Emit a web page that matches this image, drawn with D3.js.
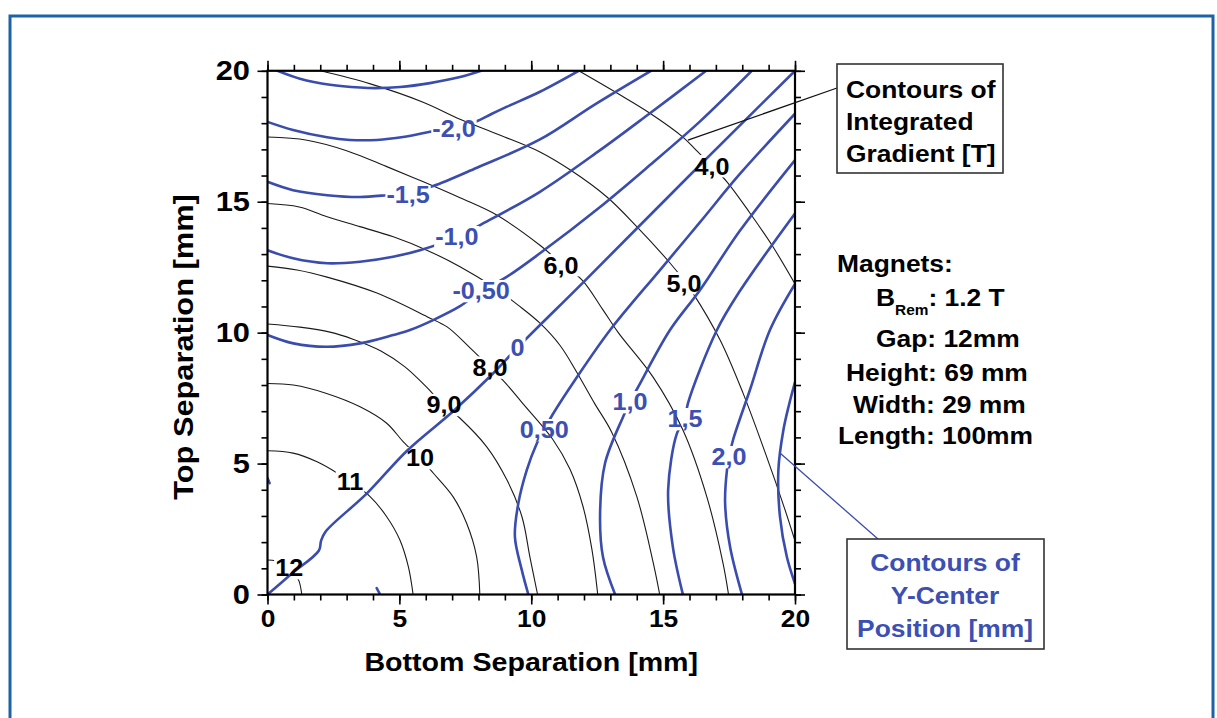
<!DOCTYPE html>
<html>
<head>
<meta charset="utf-8">
<script src="https://cdn.jsdelivr.net/npm/d3@7"></script>
<style>
  html, body { margin: 0; padding: 0; background: #fff; }
  svg { display: block; }
  text { font-family: "Liberation Sans", Arial, Helvetica, sans-serif; font-weight: bold; }
</style>
</head>
<body>
<svg id="chart" width="1217" height="718"></svg>
<script>
// ---- Integrated gradient contours [T]; points are (bottom sep, top sep) in mm ----
const gradientValues = ["4,0", "5,0", "6,0", "7,0", "8,0", "9,0", "10", "11", "12"];
const grad40 = [[11.8,20],[13.25,19.15],[14.5,18.38],[15.75,17.47],[16.25,16.97],[16.85,16.36],[17.42,15.76],[18.29,14.57],[19.17,13.27],[20,11.86]];
const grad50 = [[2.01,20],[3.9,19.5],[5.9,18.8],[7.3,18.15],[8.8,17.55],[10.33,16.9],[11.5,16.2],[12.87,15.18],[14.0,14.05],[15.26,12.66],[15.75,12.05],[16.13,11.51],[17.16,9.72],[18.03,7.69],[18.9,5.33],[19.6,3.3],[20,2.05]];
const grad60 = [[0,17.47],[1.5,17.35],[3.0,16.95],[4.5,16.35],[5.91,15.76],[7.3,15.15],[8.69,14.49],[10.33,13.34],[11.13,12.65],[11.93,12.01],[12.7,10.9],[13.3,10.0],[14.62,8.3],[15.75,6.28],[16.66,3.72],[17.27,1.2],[17.48,0]];
const grad70 = [[0,14.93],[1.2,14.8],[2.26,14.43],[3.5,14.05],[4.77,13.66],[6.04,13.15],[7.3,12.52],[8.56,11.75],[9.5,11.05],[10.33,10.36],[11.1,9.5],[11.72,8.5],[12.4,7.3],[13.05,6.2],[14.0,3.75],[14.63,1.19],[14.87,0]];
const grad80 = [[0,12.54],[1.12,12.39],[2.26,12.12],[4.15,11.51],[6.05,10.61],[6.81,10.22],[7.68,9.42],[8.44,8.67],[9.0,8.1],[9.65,7.33],[10.82,5.92],[11.47,4.78],[11.96,3.37],[12.3,1.72],[12.52,0]];
const grad90 = [[0,10.33],[1.23,10.21],[2.37,10.02],[3.24,9.75],[4.3,9.3],[5.2,8.7],[5.9,8.05],[6.69,7.24],[7.3,6.73],[8.32,5.63],[9.08,4.37],[9.65,2.96],[9.95,1.43],[10.24,0]];
const grad100 = [[0,8.06],[0.98,8.0],[2.24,7.68],[3.51,7.17],[4.52,6.54],[5.15,5.83],[5.78,5.21],[6.29,4.63],[7.04,3.73],[7.55,2.72],[7.93,1.44],[8.05,0]];
const grad110 = [[0,5.49],[0.97,5.4],[1.88,5.07],[2.64,4.64],[3.13,4.3],[3.89,3.74],[4.52,2.97],[5.02,2.08],[5.34,1.06],[5.52,0]];
const grad120 = [[0,1.32],[0.3,1.29],[0.55,1.2],[0.85,1.02],[1.05,0.78],[1.2,0.5],[1.3,0]];
const gradientLines = [grad40, grad50, grad60, grad70, grad80, grad90, grad100, grad110, grad120];
const gradientLabelAt = [[16.85,16.36],[15.79,11.89],[11.13,12.58],null,[8.44,8.67],[6.69,7.24],[5.78,5.21],[3.13,4.30],[0.82,1.01]];

// ---- Y-center position contours [mm]; each contour may have several pieces ----
const centerValues = ["-2,5", "-2,0", "-1,5", "-1,0", "-0,50", "0", "0,50", "1,0", "1,5", "2,0", "2,5"];
const centerM25 = [[[0.38,20],[1.23,19.7],[2.37,19.47],[3.51,19.36],[4.11,19.34],[5.02,19.38],[6.16,19.53],[7.3,19.76],[8.1,20]]];
const centerM20 = [[[0,18.05],[0.97,17.74],[2.26,17.46],[3.13,17.36],[4.15,17.36],[5.14,17.47],[6.16,17.67],[7.07,17.85],[7.87,18.05],[8.51,18.36],[9.08,18.63],[10.33,19.2],[11.8,20]]];
const centerM15 = [[[0,15.76],[0.97,15.44],[2.26,15.25],[3.5,15.18],[4.5,15.25],[5.4,15.35],[6.28,15.6],[7.94,16.3],[10.33,17.38],[12.42,18.72],[14.54,20]]];
const centerM10 = [[[0,13.15],[0.97,12.84],[2.26,12.65],[3.51,12.71],[4.76,12.9],[5.78,13.15],[7.18,13.65],[8.06,14.11],[10.33,15.38],[12.61,16.97],[14.5,18.38],[16.63,20]]];
const centerM05 = [[[0,9.91],[0.98,9.59],[2.24,9.46],[3.51,9.59],[4.77,9.91],[5.4,10.1],[6.28,10.48],[7.3,11.01],[8.1,11.59],[9.07,12.13],[10.33,13.03],[12.61,14.8],[14.5,16.4],[16.4,18.07],[18.36,20]],
                   [[0,4.45],[0.08,4.25]]];
const center00 = [[[0,0],[0.9,0.78],[1.95,1.68],[2.03,2.05],[2.2,2.4],[3.76,3.85],[5.3,5.5],[7.04,7.0],[8.56,8.45],[9.48,9.43],[12,11.95],[16,16],[20,20]]];
const centerP05 = [[[9.89,0],[9.64,0.94],[9.38,2.21],[9.51,3.48],[9.83,4.75],[10.21,5.77],[10.48,6.28],[10.84,6.92],[11.66,8.19],[12.99,10.1],[14.88,12.39],[16.4,14.22],[17.91,16.06],[20,18.36]],
                   [[4.14,0.24],[4.27,0]]];
const centerP10 = [[[13.18,0],[12.72,1.43],[12.61,3.11],[12.8,5.02],[13.48,6.78],[13.74,7.35],[14.05,7.92],[15.26,10.1],[16.4,11.63],[17.91,13.89],[20,16.59]]];
const centerP15 = [[[15.75,0],[15.37,1.81],[15.19,3.99],[15.53,6.17],[15.83,6.7],[15.94,7.3],[17.04,10.1],[17.91,11.59],[20,14.55]]];
const centerP20 = [[[17.99,0],[17.54,1.81],[17.35,3.49],[17.42,4.75],[17.5,5.25],[17.65,5.9],[18.29,7.81],[19.05,10.1],[20,11.86]]];
const centerP25 = [[[20,8.11],[19.77,7.23],[19.56,6.28],[19.37,4.75],[19.43,2.97],[19.69,1.44],[20,0.41]]];
const centerLines = [centerM25, centerM20, centerM15, centerM10, centerM05, center00, centerP05, centerP10, centerP15, centerP20, centerP25];
const centerLabelAt = [null,[7.07,17.78],[5.33,15.29],[7.18,13.65],[8.1,11.59],[9.48,9.43],[10.49,6.28],[13.74,7.35],[15.83,6.7],[17.5,5.25],null];

// ---- axes ----
const majorTicks = [0, 5, 10, 15, 20];
const minorTicks = d3.range(0, 21, 1);
const xTitle = "Bottom Separation [mm]";
const yTitle = "Top Separation [mm]";

// ---- annotations ----
const gradientNote = ["Contours of", "Integrated", "Gradient [T]"];
const centerNote = ["Contours of", "Y-Center", "Position [mm]"];
const gradientPointerAt = [15.94, 17.35];
const centerPointerAt = [19.43, 5.4];
const magnetSpecs = [
  { name: "Gap", value: "12mm" },
  { name: "Height", value: "69 mm" },
  { name: "Width", value: "29 mm" },
  { name: "Length", value: "100mm" }
];
const remanence = "1.2 T";

const BLUE = "#3a4cae";
const BLUE_TEXT = "#3c4fb2";
const SX = 1.1;

const svg = d3.select("#chart");
const x = d3.scaleLinear().domain([0, 20]).range([267.5, 795]);
const y = d3.scaleLinear().domain([0, 20]).range([594.5, 70.8]);
const line = d3.line().x(d => x(d[0])).y(d => y(d[1])).curve(d3.curveCatmullRom.alpha(0.5));

// outer frame of the figure panel
svg.append("path").attr("d", "M10,720V16H1213V720")
  .attr("fill", "none").attr("stroke", "#1d62a8").attr("stroke-width", 3);

const defs = svg.append("defs");
defs.append("clipPath").attr("id", "plotClip").append("rect")
  .attr("x", x(0)).attr("y", y(20)).attr("width", x(20) - x(0)).attr("height", y(0) - y(20));
function makeMask(id) {
  const m = defs.append("mask").attr("id", id).attr("maskUnits", "userSpaceOnUse")
    .attr("x", 0).attr("y", 0).attr("width", 1217).attr("height", 718);
  m.append("rect").attr("width", 1217).attr("height", 718).attr("fill", "#fff");
  return m;
}
const maskBlack = makeMask("maskBlack");
const maskBlue = makeMask("maskBlue");

function stretched(sel, px, py, str, size, anchor, fill, sx) {
  return sel.append("text")
    .attr("transform", `translate(${px},${py}) scale(${sx || SX},1)`)
    .attr("text-anchor", anchor || "middle")
    .attr("font-size", size)
    .attr("fill", fill || "#000")
    .text(str);
}

const plot = svg.append("g").attr("clip-path", "url(#plotClip)");

// black gradient contours
plot.append("g").attr("mask", "url(#maskBlack)")
  .selectAll("path").data(gradientLines).join("path")
  .attr("d", line).attr("fill", "none").attr("stroke", "#1a1a1a").attr("stroke-width", 1.1);

// blue centre-position contours
plot.append("g").attr("mask", "url(#maskBlue)")
  .selectAll("g").data(centerLines).join("g")
  .selectAll("path").data(d => d).join("path")
  .attr("d", line).attr("fill", "none").attr("stroke", BLUE).attr("stroke-width", 2.6)
  .attr("stroke-linejoin", "round").attr("stroke-linecap", "round");

// axes: major and minor ticks on all four sides, labels on bottom and left
function addAxis(gen, tx, ty, values, size, labelled, fontSize, pad) {
  const g = svg.append("g").attr("transform", `translate(${tx},${ty})`)
    .call(gen.tickValues(values).tickSize(size).tickPadding(pad || 6)
      .tickFormat(labelled ? d3.format("d") : () => ""));
  g.select(".domain").remove();
  g.selectAll(".tick line").attr("stroke", "#000").attr("stroke-width", 1.6);
  g.selectAll(".tick text").attr("font-size", fontSize || 24).attr("fill", "#000")
    .attr("font-family", "Liberation Sans, Arial, sans-serif").attr("font-weight", "bold")
    .attr("transform", `scale(${SX},1)`);
  return g;
}
addAxis(d3.axisBottom(x), 0, y(0), minorTicks, 6, false);
addAxis(d3.axisBottom(x), 0, y(0), majorTicks, 10, true, 24, 5);
addAxis(d3.axisTop(x), 0, y(20), minorTicks, 6, false);
addAxis(d3.axisTop(x), 0, y(20), majorTicks, 10, false);
addAxis(d3.axisLeft(y), x(0), 0, minorTicks, 6, false);
addAxis(d3.axisLeft(y), x(0), 0, majorTicks, 10, true, 28, 0);
addAxis(d3.axisRight(y), x(20), 0, minorTicks, 6, false);
addAxis(d3.axisRight(y), x(20), 0, majorTicks, 10, false);

svg.append("rect").attr("x", x(0)).attr("y", y(20))
  .attr("width", x(20) - x(0)).attr("height", y(0) - y(20))
  .attr("fill", "none").attr("stroke", "#000").attr("stroke-width", 2.2);

// axis titles
stretched(svg, (x(0) + x(20)) / 2, 671, xTitle, 26, "middle");
svg.append("text")
  .attr("transform", `translate(193,347) rotate(-90) scale(${SX},1)`)
  .attr("text-anchor", "middle").attr("font-size", 28).text(yTitle);

// contour labels; each label knocks a gap out of its own family of lines
function addLabels(values, at, color, masks) {
  values.forEach((v, i) => {
    const p = at[i];
    if (!p) return;
    const t = stretched(svg, x(p[0]), y(p[1]), v, 24, "middle", color, 1.05).attr("dy", "0.35em");
    const b = t.node().getBoundingClientRect();
    masks(v).forEach(m => m.append("rect").attr("x", b.left - 1).attr("y", b.top + 2)
      .attr("width", b.width + 2).attr("height", b.height - 4).attr("fill", "#000"));
  });
}
addLabels(gradientValues, gradientLabelAt, "#000", () => [maskBlack]);
addLabels(centerValues, centerLabelAt, BLUE_TEXT, v => v === "-0,50" ? [maskBlue, maskBlack] : [maskBlue]);

// annotation boxes with leader lines
svg.append("line").attr("x1", x(gradientPointerAt[0])).attr("y1", y(gradientPointerAt[1]))
  .attr("x2", 837).attr("y2", 88).attr("stroke", "#111").attr("stroke-width", 1.2);
svg.append("rect").attr("x", 837).attr("y", 64).attr("width", 166).attr("height", 109)
  .attr("fill", "#fff").attr("stroke", "#333").attr("stroke-width", 1.6);
gradientNote.forEach((s, i) => stretched(svg, 846, 98 + i * 32, s, 24, "start", "#000"));

svg.append("line").attr("x1", x(centerPointerAt[0])).attr("y1", y(centerPointerAt[1]))
  .attr("x2", 878).attr("y2", 539).attr("stroke", BLUE).attr("stroke-width", 1.3);
svg.append("rect").attr("x", 847).attr("y", 539).attr("width", 197).attr("height", 110)
  .attr("fill", "#fff").attr("stroke", "#333").attr("stroke-width", 1.6);
centerNote.forEach((s, i) => stretched(svg, 945, 571 + i * 33, s, 24, "middle", BLUE_TEXT));

// magnet parameters
stretched(svg, 837, 272, "Magnets:", 24, "start", "#000");
const brem = svg.append("text").attr("transform", `translate(876,306) scale(${SX},1)`)
  .attr("font-size", 24).attr("text-anchor", "start");
brem.append("tspan").text("B");
brem.append("tspan").attr("font-size", 14).attr("dy", 9).text("Rem");
brem.append("tspan").attr("dy", -9).text(": " + remanence);
const specStarts = [876, 846, 853, 838];
const specBase = [347, 381, 413, 444];
magnetSpecs.forEach((m, i) => stretched(svg, specStarts[i], specBase[i], `${m.name}: ${m.value}`, 24, "start", "#000"));
</script>
</body>
</html>
